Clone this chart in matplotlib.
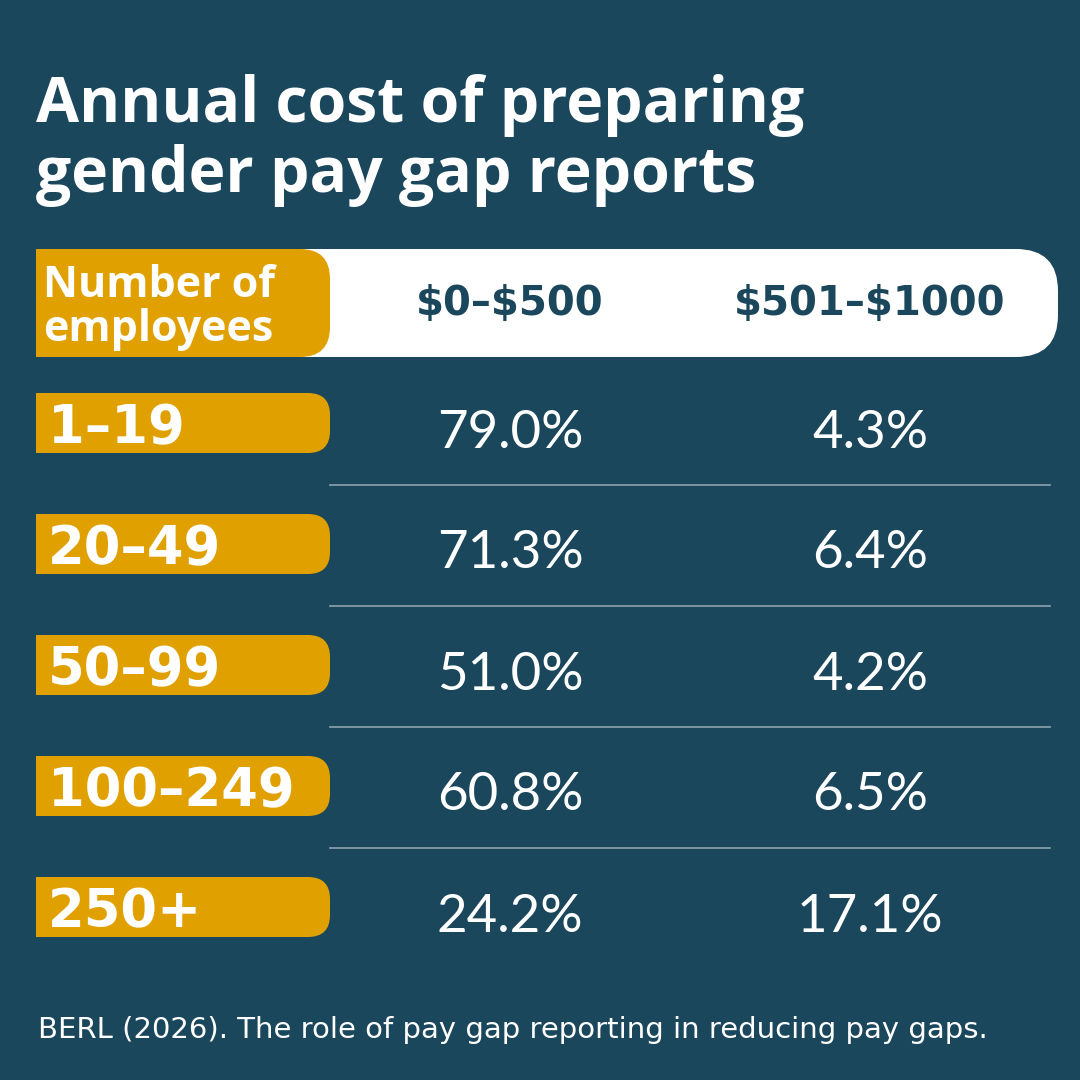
import matplotlib
matplotlib.use("Agg")
import matplotlib.pyplot as plt
from matplotlib.patches import FancyBboxPatch, Rectangle

plt.rcParams['text.parse_math'] = False

# data
title_lines = ["Annual cost of preparing", "gender pay gap reports"]
header_left = ["Number of", "employees"]
cost_bands = ["$0–$500", "$501–$1000"]
employee_groups = ["1–19", "20–49", "50–99", "100–249", "250+"]
share_low = [79.0, 71.3, 51.0, 60.8, 24.2]
share_high = [4.3, 6.4, 4.2, 6.5, 17.1]
source = "BERL (2026). The role of pay gap reporting in reducing pay gaps."

BG = "#1a475b"
GOLD = "#e0a000"
LINE = "#8ea3ad"

fig = plt.figure(figsize=(10.8, 10.8), dpi=100)
fig.patch.set_facecolor(BG)
ax = fig.add_axes([0, 0, 1, 1])
ax.set_xlim(0, 1080)
ax.set_ylim(1080, 0)
ax.set_facecolor(BG)
ax.axis("off")


def pill(x0, x1, y0, y1, r, color):
    """закруглённая справа плашка"""
    p = FancyBboxPatch((x0, y0), x1 - x0, y1 - y0,
                       boxstyle=f"round,pad=0,rounding_size={r}",
                       facecolor=color, edgecolor="none")
    ax.add_patch(p)
    ax.add_patch(Rectangle((x0, y0), (x1 - x0) / 2, y1 - y0,
                           facecolor=color, edgecolor="none"))


# title
for k, line in enumerate(title_lines):
    ax.text(36, 122 + k * 70, line, color="white", fontsize=45,
            fontweight="bold", family="Open Sans", va="baseline")

# header
pill(300, 1058, 249, 357, 42, "white")
pill(36, 330, 249, 357, 30, GOLD)
for k, line in enumerate(header_left):
    ax.text(43, 297 + k * 44, line, color="white", fontsize=31,
            fontweight="bold", family="Open Sans", va="baseline", ha="left")

col_x = [510, 870]
for cx, lab in zip(col_x, cost_bands):
    ax.text(cx, 304, lab, color=BG, fontsize=29, fontweight="bold",
            family="DejaVu Sans", ha="center", va="center")

# rows
row_top = 393
step = 121
for i, grp in enumerate(employee_groups):
    y0 = row_top + i * step
    pill(36, 330, y0, y0 + 60, 22, GOLD)
    ax.text(48, y0 + 50, grp, color="white", fontsize=38, fontweight="bold",
            family="DejaVu Sans", va="baseline")
    ax.text(col_x[0], y0 + 40, f"{share_low[i]:.1f}%", color="white",
            fontsize=38, family="Lato", ha="center", va="center")
    ax.text(col_x[1], y0 + 40, f"{share_high[i]:.1f}%", color="white",
            fontsize=38, family="Lato", ha="center", va="center")
    if i < len(employee_groups) - 1:
        ly = y0 + 92
        ax.plot([330, 1050], [ly, ly], color=LINE, lw=1.2)

# source
ax.text(38, 1030, source, color="white", fontsize=21, family="DejaVu Sans",
        va="center")

fig.savefig("out.png", dpi=100, facecolor=BG)
